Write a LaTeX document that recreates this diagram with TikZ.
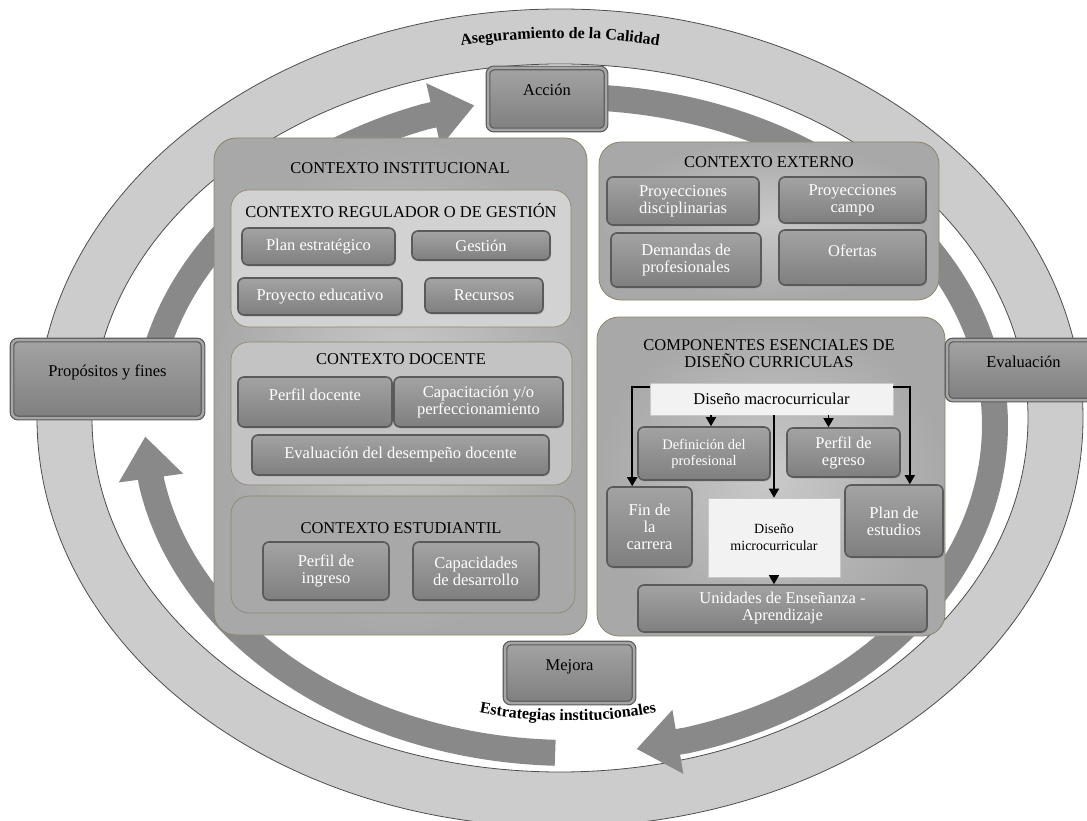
\documentclass[tikz,border=0pt]{standalone}
\usepackage{fontspec}
\setmainfont{Liberation Serif}
\usetikzlibrary{arrows.meta,positioning,decorations.text,shadows}

\definecolor{ringfill}{HTML}{CCCCCC}
\definecolor{ringline}{HTML}{4D4D4D}
\definecolor{bandgray}{HTML}{898989}
\definecolor{ctxline}{HTML}{8C8466}
\definecolor{ctxlight}{HTML}{C9C9C9}
\definecolor{ctxdark}{HTML}{A8A8A8}
\definecolor{regufill}{HTML}{D2D2D2}
\definecolor{docefill}{HTML}{C3C3C3}
\definecolor{estufill}{HTML}{A8A8A8}
\definecolor{btntop}{HTML}{A3A3A3}
\definecolor{btnbot}{HTML}{7F7F7F}
\definecolor{btnline}{HTML}{5A5A5A}
\definecolor{btnrim}{HTML}{A6A6A6}
\definecolor{plainfill}{HTML}{F2F2F2}
\definecolor{plainline}{HTML}{C8C8C8}

\tikzset{
  ctx/.style={draw=ctxline,line width=0.8pt,rounded corners=22pt,
    inner color=ctxlight,outer color=ctxdark,rectangle},
  sub/.style={draw=ctxline,line width=0.6pt,rounded corners=18pt,rectangle},
  btn/.style={draw=btnline,line width=1.6pt,rounded corners=6pt,
    top color=btntop,bottom color=btnbot,text=white,align=center,rectangle,
    drop shadow={shadow xshift=1.2pt,shadow yshift=-1.5pt,opacity=0.3}},
  outbtn/.style={btn,draw=btnline,line width=1.2pt,double=btnrim,
    double distance=2.5pt,text=black,text height=11pt,text depth=17pt},
  plain/.style={draw=plainline,line width=0.6pt,fill=plainfill,align=center,rectangle},
  band/.style={draw=bandgray,line width=26pt,-{Triangle[width=62pt,length=42pt]}},
  link/.style={draw=black,line width=1.6pt,-{Triangle[width=10pt,length=9pt]}},
}

\begin{document}
\begin{tikzpicture}[x=1pt,y=-1pt,font=\fontsize{16.5}{17}\selectfont]
\useasboundingbox (0,0) rectangle (1087,821);
\clip (0,0) rectangle (1087,821);

\fill[ringfill,draw=ringline,line width=0.8pt,even odd rule]
  (560,418) ellipse [x radius=523,y radius=409]
  (560,418) ellipse [x radius=468,y radius=354];

\path[decorate,decoration={text along path,text align=center,
  text={|\bfseries\fontsize{16}{16}\selectfont|Aseguramiento de la Calidad}}]
  plot[domain=235:305,samples=40] ({560+495*cos(\x)},{418+380*sin(\x)});
\path[decorate,decoration={text along path,text align=center,
  text={|\bfseries\fontsize{16}{16}\selectfont|Estrategias institucionales}}]
  plot[domain=-112:-68,samples=40] ({568+480*cos(\x)},{241-480*sin(\x)});

\draw[band] plot[domain=190:250,samples=50] ({570+425*cos(\x)},{425+328*sin(\x)})
  -- ({570+425*cos(257)},{425+328*sin(257)});
\draw[band] plot[domain=92:170,samples=60] ({570+425*cos(\x)},{425+328*sin(\x)})
  -- ({570+425*cos(178)},{425+328*sin(178)});
\draw[band] plot[domain=272:434,samples=120] ({570+425*cos(\x)},{425+328*sin(\x)})
  -- ({570+425*cos(441)},{425+328*sin(441)});

\node[ctx,minimum width=373pt,minimum height=497pt] (inst) at (400.5,386.5) {};
\node[sub,fill=regufill,minimum width=340pt,minimum height=137pt] (regu) at (401,258.5) {};
\node[sub,fill=docefill,minimum width=341pt,minimum height=143pt] (doce) at (401.5,413.5) {};
\node[sub,fill=estufill,minimum width=344pt,minimum height=117pt] (estu) at (403,554.5) {};
\node[ctx,minimum width=340pt,minimum height=158pt] (exte) at (769,221) {};
\node[ctx,minimum width=348pt,minimum height=319pt] (comp) at (771,476.5) {};

\node (insttit) at (400,168) {CONTEXTO INSTITUCIONAL};
\node (regutit) at (401,210) {CONTEXTO REGULADOR O DE GESTIÓN};
\node (docetit) at (401,359) {CONTEXTO DOCENTE};
\node (estutit) at (401,528) {CONTEXTO ESTUDIANTIL};
\node (extetit) at (769,162) {CONTEXTO EXTERNO};
\node[align=center] (comptit) at (769,354) {COMPONENTES ESENCIALES DE\\DISEÑO CURRICULAS};

\node[btn,minimum width=153pt,minimum height=37pt] (plan) at (318.5,246.5) {Plan estratégico};
\node[btn,minimum width=138pt,minimum height=29pt] (gest) at (481,245.5) {Gestión};
\node[btn,minimum width=164pt,minimum height=37pt] (proy) at (320,296.5) {Proyecto educativo};
\node[btn,minimum width=118pt,minimum height=35pt] (recu) at (484,295.5) {Recursos};
\node[btn,minimum width=154pt,minimum height=50pt,text depth=14pt] (perf) at (315,402) {Perfil docente};
\node[btn,minimum width=169pt,minimum height=50pt] (capa) at (478.5,402) {Capacitación y/o\\perfeccionamiento};
\node[btn,minimum width=297pt,minimum height=40pt] (evad) at (400.5,455) {Evaluación del desempeño docente};
\node[btn,minimum width=126pt,minimum height=58pt] (ping) at (326,571) {Perfil de\\ingreso};
\node[btn,minimum width=126pt,minimum height=58pt] (cdes) at (476,571) {Capacidades\\de desarrollo};

\node[btn,minimum width=152pt,minimum height=48pt] (pdis) at (683,201) {Proyecciones\\disciplinarias};
\node[btn,minimum width=147pt,minimum height=46pt] (pcam) at (852.5,200) {Proyecciones\\campo};
\node[btn,minimum width=150pt,minimum height=54pt] (dema) at (686,260) {Demandas de\\profesionales};
\node[btn,minimum width=147pt,minimum height=55pt,text depth=14pt] (ofer) at (852.5,257.5) {Ofertas};

\node[plain,minimum width=243pt,minimum height=32pt] (macr) at (771.5,399) {Diseño macrocurricular};
\node[btn,minimum width=132pt,minimum height=53pt,font=\fontsize{14.5}{16}\selectfont] (defi) at (704,453.5) {Definición del\\profesional};
\node[btn,minimum width=113pt,minimum height=49pt] (pegr) at (843.5,452.5) {Perfil de\\egreso};
\node[btn,minimum width=85pt,minimum height=80pt] (finc) at (649.5,527) {Fin de\\la\\carrera};
\node[plain,minimum width=132pt,minimum height=79pt,font=\fontsize{14}{17}\selectfont] (micr) at (774,537.5) {Diseño\\microcurricular};
\node[btn,minimum width=98pt,minimum height=72pt] (plae) at (894,521) {Plan de\\estudios};
\node[btn,minimum width=289pt,minimum height=47pt] (unid) at (782.5,608.5) {Unidades de Enseñanza -\\Aprendizaje};

\node[outbtn,minimum width=118pt,minimum height=62pt] (acci) at (547,99) {Acción};
\node[outbtn,minimum width=191pt,minimum height=78pt] (prop) at (107.5,379) {Propósitos y fines};
\node[outbtn,minimum width=153pt,minimum height=60pt] (eval) at (1023.5,370) {Evaluación};
\node[outbtn,minimum width=129pt,minimum height=60pt] (mejo) at (569.5,673) {Mejora};

\draw[link] ([yshift=-4pt]macr.north west) -| ([xshift=26pt]finc.north west);
\draw[link] ([yshift=-4pt]macr.north east) -| ([xshift=-34pt]plae.north east);
\draw[link] ([xshift=7pt]defi.north |- macr.south) -- ([xshift=7pt]defi.north);
\draw[link] ([xshift=-15pt]pegr.north |- macr.south) -- ([xshift=-15pt]pegr.north);
\draw[link] (micr.north |- macr.south) -- (micr.north);
\draw[link] (micr.south) -- (micr.south |- unid.north);

\end{tikzpicture}
\end{document}
